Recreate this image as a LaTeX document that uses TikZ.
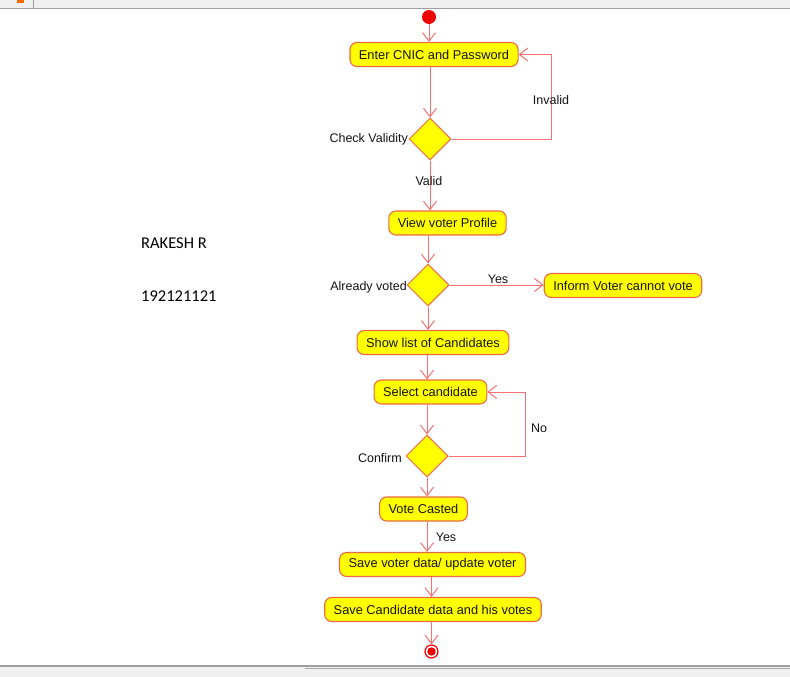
\documentclass[tikz,border=0pt]{standalone}
\usepackage{fontspec}
\setmainfont{Liberation Sans}
\newfontfamily\namefont{Carlito}
\usetikzlibrary{shapes.geometric,arrows.meta}

\definecolor{flowline}{RGB}{250,112,112}
\definecolor{boxedge}{RGB}{238,104,72}
\definecolor{boxfill}{RGB}{255,255,0}
\definecolor{dotred}{RGB}{240,0,0}
\definecolor{barbg}{RGB}{240,240,240}
\definecolor{barline}{RGB}{160,160,160}
\definecolor{inktext}{RGB}{20,20,20}

\tikzset{
  actbox/.style={draw=boxedge, fill=boxfill, line width=1.1pt, rounded corners=7pt,
    minimum height=24pt, inner xsep=9pt, inner ysep=0pt, text=inktext,
    font=\fontsize{12.8}{15}\selectfont},
  decision/.style={diamond, draw=boxedge, fill=boxfill, line width=1pt,
    minimum width=42pt, minimum height=42pt, inner sep=0pt},
  guard/.style={text=inktext, inner sep=0pt, font=\fontsize{12.5}{15}\selectfont},
  flow/.style={draw=flowline, line width=1pt,
    -{Straight Barb[length=8.5pt,width=13pt,line width=1pt]}},
  startdot/.style={circle, fill=dotred, minimum size=14pt, inner sep=0pt},
  enddot/.style={circle, draw=dotred, line width=1.2pt, fill=white,
    minimum size=13pt, inner sep=0pt},
  authortext/.style={anchor=west, inner sep=0pt, text=black,
    font=\namefont\fontsize{16.5}{20}\selectfont},
}

\begin{document}
\begin{tikzpicture}[x=1pt, y=-1pt]
  \useasboundingbox (0,0) rectangle (790,677);
  \fill[white] (0,0) rectangle (790,677);

  % window frame: toolbar strip and bottom status edge
  \fill[barbg] (0,0) rectangle (790,8);
  \draw[barline, line width=1.5pt] (0,8.5) -- (790,8.5);
  \draw[barline, line width=0.8pt] (33,0) -- (33,8);
  \fill[orange!80!red] (17,0) rectangle (24,3);
  \fill[barbg] (0,667) rectangle (790,677);
  \draw[barline, line width=2pt] (0,666) -- (790,666);
  \draw[barline!90, line width=1.8pt] (305,668.5) -- (790,668.5);

  % author
  \node[authortext] (author) at (141,243) {RAKESH R};
  \node[authortext] (regno) at (141,296) {192121121};

  % activity nodes
  \node[startdot] (start) at (429,17) {};
  \node[actbox] (enter) at (434,54.5) {Enter CNIC and Password};
  \node[decision] (check) at (430,139) {};
  \node[guard, anchor=east] (checklbl) at (408,139) {Check Validity};
  \node[actbox] (view) at (447.5,223) {View voter Profile};
  \node[decision] (already) at (428,285) {};
  \node[guard, anchor=east] (alreadylbl) at (407,287) {Already voted};
  \node[actbox] (inform) at (623,285.5) {Inform Voter cannot vote};
  \node[actbox] (show) at (433,342.5) {Show list of Candidates};
  \node[actbox] (select) at (430.5,392) {Select candidate};
  \node[decision] (confirm) at (427,456) {};
  \node[guard, anchor=east] (confirmlbl) at (402,458) {Confirm};
  \node[actbox] (vote) at (423.5,509) {Vote Casted};
  \node[actbox] (savevoter) at (432.5,564.5) {Save voter data/ update voter};
  \node[actbox] (savecand) at (433,609.5) {Save Candidate data and his votes};
  \node[enddot] (finish) at (431.5,651.5) {};
  \fill[dotred] (finish) circle (4.2pt);

  % loop-back turning points
  \coordinate (invalidturn) at (551,139);
  \coordinate (noturn) at (525,456);

  % connectors
  \draw[flow] (start) -- (start |- enter.north);
  \draw[flow] (check.north |- enter.south) -- (check.north);
  \draw[flow] (check.east) -- (invalidturn) |- (enter.east);
  \node[guard] (invalidlbl) at (551,100) {Invalid};
  \draw[flow] (check.south) -- (check.south |- view.north);
  \node[guard] (validlbl) at (429,181) {Valid};
  \draw[flow] (already.north |- view.south) -- (already.north);
  \draw[flow] (already.east) -- (already.east -| inform.west);
  \node[guard] (yeslbl) at (498,279) {Yes};
  \draw[flow] (already.south) -- (already.south |- show.north);
  \draw[flow] (confirm.north |- show.south) -- (confirm.north |- select.north);
  \draw[flow] (confirm.north |- select.south) -- (confirm.north);
  \draw[flow] (confirm.east) -- (noturn) |- (select.east);
  \node[guard] (nolbl) at (539,428) {No};
  \draw[flow] (confirm.south) -- (confirm.south |- vote.north);
  \draw[flow] (confirm.south |- vote.south) -- (confirm.south |- savevoter.north);
  \node[guard] (castyeslbl) at (446,537) {Yes};
  \draw[flow] (finish.north |- savevoter.south) -- (finish.north |- savecand.north);
  \draw[flow] (finish.north |- savecand.south) -- (finish.north);
\end{tikzpicture}
\end{document}
